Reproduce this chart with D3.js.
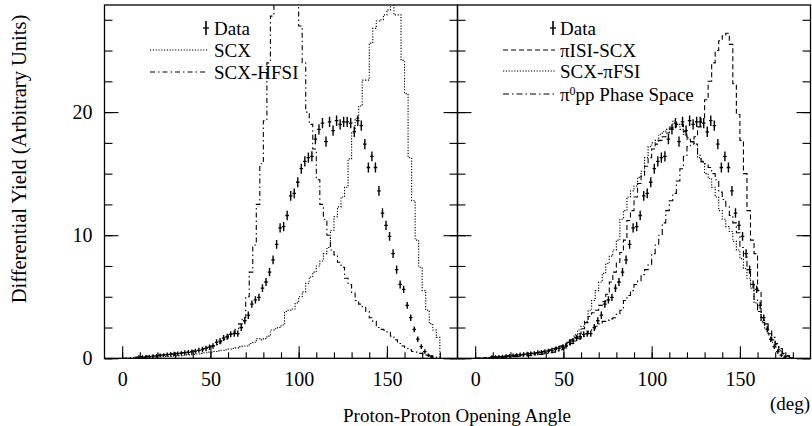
<!DOCTYPE html>
<html><head><meta charset="utf-8">
<script src="https://cdn.jsdelivr.net/npm/d3@7"></script>
<style>
body{margin:0;background:#fff;}
svg text{font-family:"Liberation Serif","Times New Roman",serif;fill:#000;}
</style></head>
<body><svg id="c" width="812" height="426"></svg>
<script>
// ---------- data ----------
// histogram bins: 2 deg wide, from 0 to 180 (lower edges 0,2,...,178)
const binWidth = 2;
const binStart = 0;
const dataAngles = [9.5,11.5,13.5,15.5,17.5,19.5,21.5,23.5,25.5,27.5,29.5,31.5,33.5,35.5,37.5,39.5,41.5,43.5,45.5,47.5,49.5,51.5,53.5,55.5,57.5,59.5,61.5,63.5,65.5,67.5,69.5,71.5,73.5,75.5,77.5,79.5,81.5,83.5,85.5,87.5,89.5,91.5,93.5,95.5,97.5,99.5,101.5,103.5,105.5,107.5,109.5,111.5,113.5,115.5,117.5,119.5,121.5,123.5,125.5,127.5,129.5,131.5,133.5,135.5,137.5,139.5,141.5,143.5,145.5,147.5,149.5,151.5,153.5,155.5,157.5,159.5,161.5,163.5,165.5,167.5,169.5,171.5,173.5,175.5];
const dataValues = [0.10,0.10,0.12,0.14,0.17,0.20,0.24,0.27,0.30,0.32,0.35,0.38,0.40,0.45,0.48,0.52,0.58,0.65,0.72,0.80,0.90,1.00,1.30,1.40,1.65,1.75,1.95,2.00,2.00,2.50,3.05,3.50,4.40,4.75,4.95,5.70,6.20,7.00,8.00,9.25,10.60,10.70,11.60,13.20,13.40,14.30,15.40,16.00,16.30,16.40,17.80,18.60,19.10,17.60,19.20,18.50,19.30,19.00,19.20,19.20,19.10,18.40,19.30,18.90,17.40,15.50,16.40,15.50,13.60,11.80,10.80,9.90,8.50,7.20,6.00,5.60,4.30,3.30,2.35,1.55,0.95,0.55,0.25,0.10];
const dataErrors = [0.15,0.15,0.15,0.15,0.15,0.15,0.15,0.15,0.18,0.18,0.18,0.18,0.18,0.2,0.2,0.2,0.2,0.2,0.22,0.22,0.22,0.22,0.25,0.25,0.25,0.25,0.25,0.25,0.25,0.28,0.28,0.3,0.3,0.3,0.3,0.32,0.32,0.33,0.35,0.35,0.38,0.38,0.38,0.4,0.4,0.4,0.4,0.42,0.42,0.42,0.42,0.42,0.42,0.42,0.42,0.42,0.42,0.42,0.42,0.42,0.42,0.42,0.42,0.42,0.42,0.4,0.4,0.4,0.4,0.38,0.38,0.36,0.35,0.33,0.32,0.3,0.28,0.26,0.24,0.22,0.2,0.18,0.15,0.15];

const scx = [0,0,0.02,0.03,0.05, 0.05,0.06,0.08,0.1,0.1, 0.12,0.13,0.15,0.17,0.2, 0.2,0.22,0.25,0.28,0.3,
  0.32,0.35,0.4,0.45,0.5, 0.5,0.55,0.6,0.65,0.7, 0.75,0.8,0.85,0.95,1.0, 1.0,1.2,1.3,1.6,1.5,
  1.6,1.8,2.3,2.4,2.5, 2.7,3.8,3.9,4.0,4.5, 5.0,5.4,6.1,6.6,7.0, 7.5,7.9,8.5,9.0,10.4,
  11.5,12.3,13.1,13.9,16.2, 18.3,19.5,20.5,22.6,22.6, 25.6,26.8,27.4,27.5,27.9, 28.3,29.5,27.9,27.9,24.2,
  21.5,16.3,12.8,9.6,7.4, 5.5,3.9,2.8,2.3,1.7];
const scxHfsi = [0,0.02,0.05,0.08,0.1, 0.12,0.15,0.18,0.2,0.22, 0.25,0.28,0.3,0.33,0.36, 0.4,0.43,0.47,0.5,0.55,
  0.6,0.65,0.7,0.8,0.9, 1.0,1.1,1.25,1.4,1.6, 1.9,2.1,2.4,2.8,3.3, 5.0,7.0,9.2,12.5,15.8,
  19.3,24,27.8,34,40, 44,45,42,38,33, 27,24,20,19,17, 14.5,12.5,11.3,10,8.8,
  8.4,7.8,7.4,6.5,6.0, 5.3,4.7,4.4,4.2,3.8, 3.3,3.0,2.5,2.35,2.3, 2.15,1.8,1.5,1.2,1.0,
  0.8,0.7,0.55,0.5,0.4, 0.35,0.27,0.2,0.1,0.05];
const isiScx = [0,0.02,0.04,0.06,0.08, 0.1,0.12,0.14,0.16,0.18, 0.2,0.23,0.26,0.3,0.33, 0.37,0.4,0.45,0.5,0.55,
  0.6,0.7,0.8,0.9,1.0, 1.15,1.3,1.5,1.7,2.0, 2.4,2.9,3.4,3.7,3.9, 4.3,4.6,5.2,6.2,7.0,
  7.8,8.6,9.6,11.2,12.0, 13.1,14.2,14.8,15.6,16.3, 17.0,17.4,17.7,18.0,18.3, 18.7,18.8,19.0,19.0,18.4,
  17.9,17.6,18.0,18.8,19.5, 21.0,22.5,24.0,25.0,25.8, 26.2,26.4,25.5,22.3,19.8, 17.7,15.0,12.0,9.6,8.5,
  5.5,2.9,2.6,2.0,1.5, 1.1,0.7,0.4,0.2,0.05];
const scxFsi = [0,0.02,0.04,0.06,0.08, 0.1,0.12,0.14,0.16,0.18, 0.2,0.23,0.26,0.3,0.33, 0.37,0.42,0.47,0.52,0.6,
  0.65,0.7,0.8,0.9,1.0, 1.1,1.3,1.5,1.9,2.3, 2.6,3.0,3.9,4.7,5.5, 6.2,6.9,7.7,8.3,8.8,
  9.6,11.3,12.0,13.1,13.6, 14.0,14.7,15.2,16.3,17.2, 17.5,17.7,18.2,18.4,18.6, 18.8,19.3,19.0,18.6,18.2,
  17.8,17.6,17.4,16.3,15.9, 15.0,14.6,13.9,13.1,12.0, 11.3,10.7,10.3,9.5,8.8, 8.1,7.3,6.5,5.7,4.5,
  3.8,3.0,2.4,1.9,1.3, 0.9,0.6,0.35,0.15,0.05];
const phaseSpace = [0,0.01,0.02,0.03,0.04, 0.05,0.06,0.07,0.08,0.1, 0.12,0.14,0.16,0.18,0.2, 0.22,0.25,0.28,0.32,0.36,
  0.4,0.45,0.5,0.6,0.7, 0.85,1.0,1.2,1.4,1.6, 1.8,2.0,2.2,2.4,2.6, 2.8,3.0,3.1,3.2,3.3,
  3.6,3.9,4.7,5.1,5.5, 6.0,6.3,6.8,7.2,7.6, 8.5,9.2,10.0,11.0,12.0, 12.8,13.4,14.4,15.4,16.4,
  17.2,17.6,17.4,16.5,16.0, 15.8,15.5,15.0,14.5,13.5, 12.9,12.3,11.6,11.0,10.2, 9.0,8.3,7.2,6.0,4.8,
  3.8,3.3,2.8,2.3,1.7, 1.2,0.8,0.5,0.2,0.05];

const xTickLabels = [0,50,100,150];
const xMinorTicks = [0,10,20,30,40,50,60,70,80,90,100,110,120,130,140,150,160,170,180];
const yTickLabels = [0,10,20];
const yMinorTicks = [0,2.5,5,7.5,10,12.5,15,17.5,20,22.5,25,27.5];

const leftSeries = [
  {name:"SCX", values:scx, dash:"1.2,1.6"},
  {name:"SCX-HFSI", values:scxHfsi, dash:"5,3,1.5,3"}
];
const rightSeries = [
  {name:"\u03c0ISI-SCX", values:isiScx, dash:"5,3"},
  {name:"SCX-\u03c0FSI", values:scxFsi, dash:"1.2,1.6"},
  {name:"PS", values:phaseSpace, dash:"6,3,1.5,3"}
];

// ---------- layout ----------
const svg = d3.select("#c");
const topY = 5, bottomY = 358.3;
const panelsGeom = [{x0:104.5, x1:457.5, series:leftSeries}, {x0:457.5, x1:810.5, series:rightSeries}];
const y = d3.scaleLinear().domain([0,28.7]).range([bottomY, topY]);

const defs = svg.append("defs");

panelsGeom.forEach((p, pi) => {
  const x = d3.scaleLinear().domain([-10,190]).range([p.x0, p.x1]);
  const g = svg.append("g");
  const clipId = "clip"+pi;
  defs.append("clipPath").attr("id", clipId).append("rect")
    .attr("x", p.x0).attr("y", topY).attr("width", p.x1-p.x0).attr("height", bottomY-topY);

  // axes
  const xMinor = d3.axisBottom(x).tickValues(xMinorTicks).tickSize(-6).tickFormat("");
  g.append("g").attr("transform",`translate(0,${bottomY})`).call(xMinor);
  const xMajor = d3.axisBottom(x).tickValues(xTickLabels).tickSize(-12).tickPadding(14).tickFormat(d3.format("d"));
  g.append("g").attr("class","xmaj").attr("transform",`translate(0,${bottomY})`).call(xMajor);

  const yMinL = d3.axisLeft(y).tickValues(yMinorTicks).tickSize(-8).tickFormat("");
  g.append("g").attr("transform",`translate(${p.x0},0)`).call(yMinL);
  const yMinR = d3.axisRight(y).tickValues(yMinorTicks).tickSize(-8).tickFormat("");
  g.append("g").attr("transform",`translate(${p.x1},0)`).call(yMinR);
  const yMajR = d3.axisRight(y).tickValues(yTickLabels).tickSize(-14).tickFormat("");
  g.append("g").attr("transform",`translate(${p.x1},0)`).call(yMajR);
  const yMajL = d3.axisLeft(y).tickValues(yTickLabels).tickSize(-14).tickPadding(12)
      .tickFormat(pi===0 ? d3.format("d") : "");
  g.append("g").attr("class","ymaj").attr("transform",`translate(${p.x0},0)`).call(yMajL);

  g.selectAll(".domain").remove();
  g.selectAll(".tick line").attr("stroke","#000").attr("stroke-width",1.1);
  g.selectAll(".tick text").attr("font-size",20).attr("font-family",'"Liberation Serif",serif').attr("fill","#000");

  // histograms
  const line = d3.line().x(d=>x(d[0])).y(d=>y(d[1])).curve(d3.curveStepAfter);
  const hg = g.append("g").attr("clip-path",`url(#${clipId})`);
  p.series.forEach(s => {
    const pts = s.values.map((v,i)=>[binStart+i*binWidth, v]);
    pts.push([binStart+s.values.length*binWidth, s.values[s.values.length-1]]);
    pts.push([binStart+s.values.length*binWidth, 0]);
    hg.append("path").attr("d", line(pts)).attr("fill","none").attr("stroke","#000")
      .attr("stroke-width",1.1).attr("stroke-dasharray", s.dash);
  });

  // data crosses
  const dg = hg.append("g");
  dataAngles.forEach((a,i) => {
    const cx = x(a), cy = y(dataValues[i]);
    dg.append("line").attr("x1",cx).attr("x2",cx)
      .attr("y1",y(dataValues[i]-dataErrors[i])).attr("y2",y(dataValues[i]+dataErrors[i]))
      .attr("stroke","#000").attr("stroke-width",1.4);
    dg.append("line").attr("x1",x(a-binWidth/2)).attr("x2",x(a+binWidth/2))
      .attr("y1",cy).attr("y2",cy).attr("stroke","#000").attr("stroke-width",1.3);
  });

  // frame
  g.append("rect").attr("x",p.x0).attr("y",topY).attr("width",p.x1-p.x0).attr("height",bottomY-topY)
    .attr("fill","none").attr("stroke","#000").attr("stroke-width",1.3);
});

// ---------- legends ----------
function legend(entries, lx0, lx1, tx, rows) {
  const lg = svg.append("g");
  entries.forEach((e, i) => {
    const ry = rows[i];
    if (e.type === "data") {
      lg.append("line").attr("x1",lx1-2).attr("x2",lx1-2).attr("y1",ry-7).attr("y2",ry+7)
        .attr("stroke","#000").attr("stroke-width",1.6);
      lg.append("line").attr("x1",lx1-5).attr("x2",lx1+1).attr("y1",ry).attr("y2",ry)
        .attr("stroke","#000").attr("stroke-width",1.3);
    } else {
      lg.append("line").attr("x1",lx0).attr("x2",lx1).attr("y1",ry).attr("y2",ry)
        .attr("stroke","#000").attr("stroke-width",1.1).attr("stroke-dasharray",e.dash);
    }
    const t = lg.append("text").attr("x",tx).attr("y",ry+6.5).attr("font-size",19);
    if (e.sup) {
      t.append("tspan").text("\u03c0");
      t.append("tspan").attr("dy",-6).attr("font-size",12).text("0");
      t.append("tspan").attr("dy",6).text("pp Phase Space");
    } else t.text(e.label);
  });
}
legend([
  {type:"data", label:"Data"},
  {label:"SCX", dash:leftSeries[0].dash},
  {label:"SCX-HFSI", dash:leftSeries[1].dash}
], 150, 208, 214, [28, 50, 72]);
legend([
  {type:"data", label:"Data"},
  {label:rightSeries[0].name, dash:rightSeries[0].dash},
  {label:rightSeries[1].name, dash:rightSeries[1].dash},
  {sup:true, dash:rightSeries[2].dash}
], 503, 555, 560, [28, 50, 71, 94]);

// ---------- axis titles ----------
svg.append("text").attr("x",457).attr("y",422).attr("text-anchor","middle").attr("font-size",19)
  .text("Proton-Proton Opening Angle");
svg.append("text").attr("x",810).attr("y",410).attr("text-anchor","end").attr("font-size",19)
  .text("(deg)");
svg.append("text").attr("transform","translate(26,159) rotate(-90)").attr("text-anchor","middle")
  .attr("font-size",20.5).text("Differential Yield (Arbitrary Units)");
</script></body></html>
